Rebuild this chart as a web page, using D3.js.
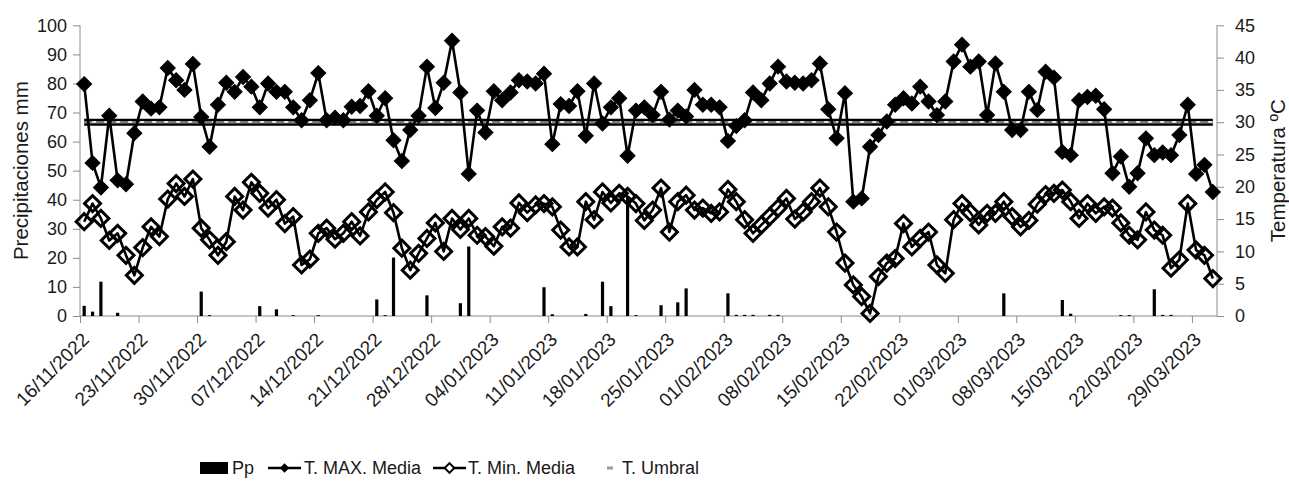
<!DOCTYPE html>
<html>
<head>
<meta charset="utf-8">
<script src="https://cdn.jsdelivr.net/npm/d3@7"></script>
<style>
  body { margin: 0; background: #fff; }
  text { font-family: 'Liberation Sans', Arial, sans-serif; fill: #1a1a1a; }
</style>
</head>
<body>
<div id="chart"></div>
<script>
// daily values, 16/11/2022 .. 31/03/2023
const startDay = '16/11/2022';
const endDay = '01/04/2023';

const pp = [
  3.5, 1.5, 11.8, 0, 1.1, 0, 0, 0, 0, 0,
  0, 0, 0, 0, 8.4, 0.3, 0, 0, 0, 0,
  0, 3.4, 0, 2.3, 0, 0.3, 0, 0, 0.3, 0,
  0, 0, 0, 0, 0, 5.7, 0.3, 20.1, 0, 0,
  0, 7.1, 0, 0, 0, 4.4, 23.9, 0, 0, 0,
  0, 0, 0, 0, 0, 9.9, 0.6, 0, 0, 0,
  0.7, 0, 11.8, 3.4, 0, 41, 0.3, 0, 0, 3.7,
  0, 4.7, 9.5, 0, 0, 0, 0, 7.8, 0.4, 0.4,
  0.4, 0, 0.4, 0.4, 0, 0, 0, 0, 0, 0,
  0, 0, 0, 0, 0, 0, 0, 0, 0, 0,
  0, 0, 0, 0, 0, 0, 0, 0, 0, 0,
  7.8, 0, 0, 0, 0, 0, 0, 5.5, 0.8, 0,
  0, 0, 0, 0, 0.3, 0.3, 0, 0, 9.2, 0.4,
  0.4, 0, 0, 0, 0, 0
];

const tMax = [
  35.9, 23.7, 19.9, 31.0, 21.0, 20.4, 28.3, 33.2, 32.1, 32.3,
  38.4, 36.5, 35.0, 39.0, 30.8, 26.2, 32.7, 36.1, 34.7, 37.0,
  35.5, 32.3, 36.0, 34.7, 34.7, 32.3, 30.3, 33.4, 37.6, 30.3,
  30.7, 30.3, 32.4, 32.5, 34.8, 31.0, 33.7, 27.2, 24.0, 28.8,
  31.0, 38.6, 32.2, 36.1, 42.6, 34.6, 22.0, 31.8, 28.4, 34.8,
  33.4, 34.6, 36.5, 36.3, 36.0, 37.5, 26.6, 32.8, 32.5, 34.8,
  27.9, 36.0, 29.8, 32.3, 33.7, 24.8, 31.8, 32.3, 31.1, 34.7,
  30.4, 31.8, 30.9, 35.0, 32.7, 32.7, 32.3, 27.1, 29.4, 30.3,
  34.6, 33.4, 36.0, 38.6, 36.3, 36.1, 36.0, 36.5, 39.1, 32.0,
  27.5, 34.5, 17.7, 18.2, 26.2, 28.0, 30.1, 32.7, 33.7, 32.9,
  35.5, 33.2, 31.1, 33.2, 39.4, 42.0, 38.6, 39.4, 31.1, 39.1,
  34.7, 28.8, 28.8, 34.7, 31.9, 37.8, 36.9, 25.4, 24.9, 33.4,
  33.9, 34.1, 32.0, 22.1, 24.7, 20.0, 22.1, 27.5, 24.9, 25.3,
  24.9, 28.0, 32.7, 22.0, 23.4, 19.2
];

const tMin = [
  14.6, 17.4, 15.1, 11.7, 12.8, 9.4, 6.3, 10.6, 13.8, 12.3,
  18.1, 20.5, 18.5, 21.2, 13.6, 11.8, 9.4, 11.5, 18.5, 16.4,
  20.7, 19.0, 16.7, 18.0, 14.3, 15.4, 7.9, 8.8, 12.8, 13.6,
  11.9, 12.8, 14.6, 12.4, 16.1, 18.0, 19.2, 16.0, 10.5, 7.1,
  9.7, 12.0, 14.4, 10.0, 15.1, 13.4, 15.1, 12.5, 12.3, 10.8,
  13.8, 13.6, 17.5, 16.0, 17.2, 17.4, 16.9, 13.3, 10.7, 10.7,
  17.7, 14.9, 19.2, 17.5, 19.0, 18.5, 17.4, 14.8, 16.4, 19.8,
  13.0, 17.7, 18.7, 16.4, 16.7, 15.9, 16.1, 19.6, 17.7, 14.9,
  12.8, 14.1, 15.4, 16.7, 18.2, 15.0, 16.1, 17.7, 19.8, 16.9,
  13.0, 8.2, 4.8, 3.0, 0.4, 6.1, 8.2, 8.9, 14.3, 10.7,
  12.0, 13.0, 7.9, 6.6, 14.9, 17.4, 16.0, 14.1, 15.9, 15.9,
  17.7, 15.4, 13.8, 14.8, 17.3, 18.8, 19.0, 19.5, 17.7, 15.1,
  17.4, 15.9, 16.9, 16.7, 14.4, 12.5, 11.8, 16.1, 13.3, 12.5,
  7.4, 8.7, 17.4, 10.2, 9.4, 5.8
];

const tUmbral = 30;

const tickLabels = [
  '16/11/2022', '23/11/2022', '30/11/2022', '07/12/2022', '14/12/2022',
  '21/12/2022', '28/12/2022', '04/01/2023', '11/01/2023', '18/01/2023',
  '25/01/2023', '01/02/2023', '08/02/2023', '15/02/2023', '22/02/2023',
  '01/03/2023', '08/03/2023', '15/03/2023', '22/03/2023', '29/03/2023'
];
const ppTicks = [0, 10, 20, 30, 40, 50, 60, 70, 80, 90, 100];
const tTicks = [0, 5, 10, 15, 20, 25, 30, 35, 40, 45];

const parse = d3.timeParse('%d/%m/%Y');
const days = d3.timeDay.range(parse(startDay), parse(endDay));

const w = 1289, h = 491;
const pLeft = 80, pRight = 1217, pTop = 25.3, pBottom = 316;
const axisCol = '#8c8c8c';

const svg = d3.select('#chart')
  .append('svg')
  .attr('width', w)
  .attr('height', h);

const x = d3.scaleTime()
  .domain([parse(startDay), parse(endDay)])
  .range([pLeft, pRight]);
const dayW = x(days[1]) - x(days[0]);
const cx = d => x(d) + dayW / 2;

const yPp = d3.scaleLinear().domain([0, 100]).range([pBottom, pTop]);
const yT = d3.scaleLinear().domain([0, 45]).range([pBottom, pTop]);

// axes
const xAxis = d3.axisBottom(x)
  .tickValues(tickLabels.map(parse))
  .tickSize(7)
  .tickFormat(d3.timeFormat('%d/%m/%Y'));

const gx = svg.append('g')
  .attr('transform', `translate(0,${pBottom})`)
  .call(xAxis);
gx.select('.domain').attr('stroke', axisCol).attr('d', `M${pLeft},0H${pRight}`);
gx.selectAll('.tick line').attr('stroke', axisCol);
gx.selectAll('.tick text')
  .attr('font-size', 19)
  .attr('text-anchor', 'end')
  .attr('transform', 'translate(5,20) rotate(-45)')
  .attr('dy', '0.35em')
  .attr('y', 0);

const gyl = svg.append('g')
  .attr('transform', `translate(${pLeft},0)`)
  .call(d3.axisLeft(yPp).tickValues(ppTicks).tickSize(7).tickPadding(6));
gyl.select('.domain').attr('stroke', axisCol).attr('d', `M0,${pBottom}V${pTop}`);
gyl.selectAll('.tick line').attr('stroke', axisCol);
gyl.selectAll('.tick text').attr('font-size', 18);

const gyr = svg.append('g')
  .attr('transform', `translate(${pRight},0)`)
  .call(d3.axisRight(yT).tickValues(tTicks).tickSize(7).tickPadding(11));
gyr.select('.domain').attr('stroke', axisCol).attr('d', `M0,${pBottom}V${pTop}`);
gyr.selectAll('.tick line').attr('stroke', axisCol);
gyr.selectAll('.tick text').attr('font-size', 18);

svg.selectAll('.tick text').attr('fill', '#1a1a1a');

svg.append('text')
  .attr('transform', `translate(28,${(pTop + pBottom) / 2}) rotate(-90)`)
  .attr('text-anchor', 'middle')
  .attr('font-size', 20.5)
  .text('Precipitaciones mm');

svg.append('text')
  .attr('transform', `translate(1271,${(pTop + pBottom) / 2}) rotate(-90)`)
  .attr('text-anchor', 'middle')
  .attr('dy', '0.7em')
  .attr('font-size', 20.5)
  .text('Temperatura ºC');

// precipitation bars
svg.append('g')
  .selectAll('rect')
  .data(pp)
  .join('rect')
  .attr('x', (d, i) => cx(days[i]) - 1.6)
  .attr('width', 3.2)
  .attr('y', d => yPp(d))
  .attr('height', d => pBottom - yPp(d))
  .attr('fill', '#000');

// threshold
const umbralLine = d3.line()
  .x(d => cx(d))
  .y(() => yT(tUmbral));
const uEnds = [days[0], days[days.length - 1]];
svg.append('path').attr('d', umbralLine(uEnds))
  .attr('stroke', '#000').attr('stroke-width', 7).attr('fill', 'none');
svg.append('path').attr('d', umbralLine(uEnds))
  .attr('stroke', '#e6e6e6').attr('stroke-width', 2.2).attr('fill', 'none');
svg.append('path').attr('d', umbralLine(uEnds))
  .attr('stroke', '#7a7a7a').attr('stroke-width', 2.2).attr('fill', 'none')
  .attr('stroke-dasharray', '8,4');

const diamond = d3.symbol().type(d3.symbolSquare);

function series(values, filled, size) {
  const line = d3.line()
    .x((d, i) => cx(days[i]))
    .y(d => yT(d));
  svg.append('path')
    .attr('d', line(values))
    .attr('fill', 'none')
    .attr('stroke', '#000')
    .attr('stroke-width', 2.6)
    .attr('stroke-linejoin', 'round');
  svg.append('g')
    .selectAll('path')
    .data(values)
    .join('path')
    .attr('d', diamond.size(size)())
    .attr('transform', (d, i) => `translate(${cx(days[i])},${yT(d)}) rotate(45)`)
    .attr('fill', filled ? '#000' : 'none')
    .attr('stroke', '#000')
    .attr('stroke-width', filled ? 1 : 3);
}

series(tMax, true, 112);
series(tMin, false, 128);

// legend
const leg = svg.append('g').attr('font-size', 18);
const ly = 468;

leg.append('rect').attr('x', 200).attr('y', ly - 6).attr('width', 28).attr('height', 12).attr('fill', '#000');
leg.append('text').attr('x', 232).attr('y', ly).attr('dy', '0.35em').text('Pp');

leg.append('line').attr('x1', 268).attr('x2', 301).attr('y1', ly).attr('y2', ly)
  .attr('stroke', '#000').attr('stroke-width', 2.5);
leg.append('path').attr('d', diamond.size(44)())
  .attr('transform', `translate(284.5,${ly}) rotate(45)`).attr('fill', '#000');
leg.append('text').attr('x', 304).attr('y', ly).attr('dy', '0.35em').text('T. MAX. Media');

leg.append('line').attr('x1', 433).attr('x2', 466).attr('y1', ly).attr('y2', ly)
  .attr('stroke', '#000').attr('stroke-width', 2.5);
leg.append('path').attr('d', diamond.size(46)())
  .attr('transform', `translate(449.5,${ly}) rotate(45)`)
  .attr('fill', '#fff').attr('stroke', '#000').attr('stroke-width', 2);
leg.append('text').attr('x', 468).attr('y', ly).attr('dy', '0.35em').text('T. Min. Media');

leg.append('rect').attr('x', 607).attr('y', ly - 1.5).attr('width', 6).attr('height', 3).attr('fill', '#9a9a9a');
leg.append('text').attr('x', 622).attr('y', ly).attr('dy', '0.35em').text('T. Umbral');
</script>
</body>
</html>
